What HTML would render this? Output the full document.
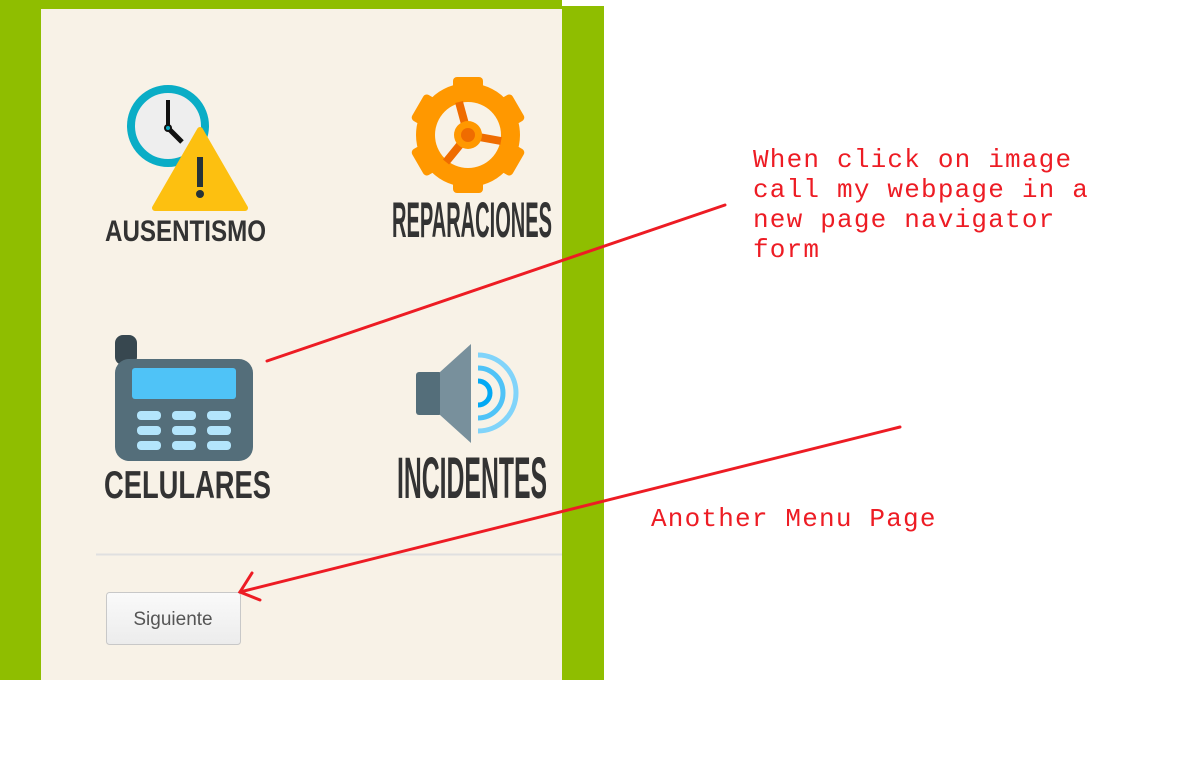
<!DOCTYPE html>
<html><head><meta charset="utf-8"><style>
html,body{margin:0;padding:0;background:#fff;width:1204px;height:780px;overflow:hidden}
</style></head><body>
<svg width="1204" height="780" viewBox="0 0 1204 780" xmlns="http://www.w3.org/2000/svg">
<rect x="0" y="0" width="1204" height="780" fill="#fff"/>
<rect x="0" y="0" width="562" height="680" fill="#8fbe00"/>
<rect x="562" y="6" width="42" height="674" fill="#8fbe00"/>
<rect x="41" y="9" width="521" height="671" fill="#f8f2e7"/>

<!-- clock -->
<circle cx="168" cy="126" r="37" fill="#eeeeee" stroke="#0aadc6" stroke-width="8"/>
<line x1="168" y1="100" x2="168" y2="128" stroke="#111" stroke-width="4"/>
<line x1="168" y1="128" x2="182" y2="142" stroke="#111" stroke-width="5"/>
<circle cx="168" cy="128" r="4" fill="#111"/><circle cx="168" cy="128" r="2" fill="#0aadc6"/>
<path d="M200 130 L245 208 L155 208 Z" fill="#fdc010" stroke="#fdc010" stroke-width="6" stroke-linejoin="round"/>
<rect x="197" y="157" width="6" height="30" fill="#263238"/>
<circle cx="200" cy="194" r="4" fill="#263238"/>
<text x="105" y="241" font-family="Liberation Sans, sans-serif" font-weight="bold" font-size="30" fill="#333" textLength="161" lengthAdjust="spacingAndGlyphs">AUSENTISMO</text>

<!-- gear -->
<g transform="translate(468,135)" fill="#ff9800">
<circle r="52"/>
<g id="t"><rect x="-15" y="-58" width="30" height="22" rx="4"/></g>
<use href="#t" transform="rotate(60)"/><use href="#t" transform="rotate(120)"/>
<use href="#t" transform="rotate(180)"/><use href="#t" transform="rotate(240)"/><use href="#t" transform="rotate(300)"/>
<circle r="33" fill="#f8f2e7"/>
<g stroke="#ef6c00" stroke-width="8"><line x1="0" y1="0" x2="-9" y2="-33"/><line x1="0" y1="0" x2="33" y2="6"/><line x1="0" y1="0" x2="-22" y2="27"/></g>
<circle r="14" fill="#ff9800"/><circle r="7" fill="#ef6c00"/>
</g>
<text x="392" y="237" font-family="Liberation Sans, sans-serif" font-weight="bold" font-size="50" fill="#333" textLength="160" lengthAdjust="spacingAndGlyphs">REPARACIONES</text>

<!-- phone -->
<rect x="115" y="335" width="22" height="30" rx="8" fill="#37474f"/>
<rect x="115" y="359" width="138" height="102" rx="14" fill="#546e7a"/>
<rect x="132" y="368" width="104" height="31" rx="3" fill="#4fc3f7"/>
<g fill="#b3e5fc">
<rect x="137" y="411" width="24" height="9" rx="4"/><rect x="172" y="411" width="24" height="9" rx="4"/><rect x="207" y="411" width="24" height="9" rx="4"/>
<rect x="137" y="426" width="24" height="9" rx="4"/><rect x="172" y="426" width="24" height="9" rx="4"/><rect x="207" y="426" width="24" height="9" rx="4"/>
<rect x="137" y="441" width="24" height="9" rx="4"/><rect x="172" y="441" width="24" height="9" rx="4"/><rect x="207" y="441" width="24" height="9" rx="4"/>
</g>
<text x="104" y="498" font-family="Liberation Sans, sans-serif" font-weight="bold" font-size="39" fill="#333" textLength="167" lengthAdjust="spacingAndGlyphs">CELULARES</text>

<!-- speaker -->
<rect x="416" y="372" width="26" height="43" rx="3" fill="#546e7a"/>
<polygon points="440,372 471,344 471,443 440,415" fill="#78909c"/>
<g fill="none" stroke-width="5">
<path d="M478 381 A12 12 0 0 1 478 405" stroke="#03a9f4"/>
<path d="M478 368 A25 25 0 0 1 478 418" stroke="#4fc3f7"/>
<path d="M478 355 A38 38 0 0 1 478 431" stroke="#81d4fa"/>
</g>
<text x="397" y="498" font-family="Liberation Sans, sans-serif" font-weight="bold" font-size="58" fill="#333" textLength="150" lengthAdjust="spacingAndGlyphs">INCIDENTES</text>

<line x1="96" y1="554.5" x2="562" y2="554.5" stroke="#e0e0e0" stroke-width="2"/>
<defs><linearGradient id="bg" x1="0" y1="0" x2="0" y2="1"><stop offset="0" stop-color="#fafafa"/><stop offset="1" stop-color="#ececec"/></linearGradient></defs>
<rect x="106.5" y="592.5" width="134" height="52" rx="3" fill="url(#bg)" stroke="#c8c8c8"/>
<text x="173" y="625" text-anchor="middle" font-family="Liberation Sans, sans-serif" font-size="19" fill="#555">Siguiente</text>

<!-- annotations -->
<g stroke="#ed1c24" stroke-width="3" stroke-linecap="round" fill="none">
<line x1="267" y1="361" x2="725" y2="205"/>
<line x1="900" y1="427" x2="240" y2="592"/>
<polyline points="252,573 240,592 260,600"/>
</g>
<g font-family="Liberation Mono, monospace" font-size="26" fill="#ed1c24" letter-spacing="1.2">
<text x="753" y="167">When click on image</text>
<text x="753" y="197">call my webpage in a</text>
<text x="753" y="227">new page navigator</text>
<text x="753" y="257">form</text>
<text x="651" y="526">Another Menu Page</text>
</g>
</svg>
</body></html>
